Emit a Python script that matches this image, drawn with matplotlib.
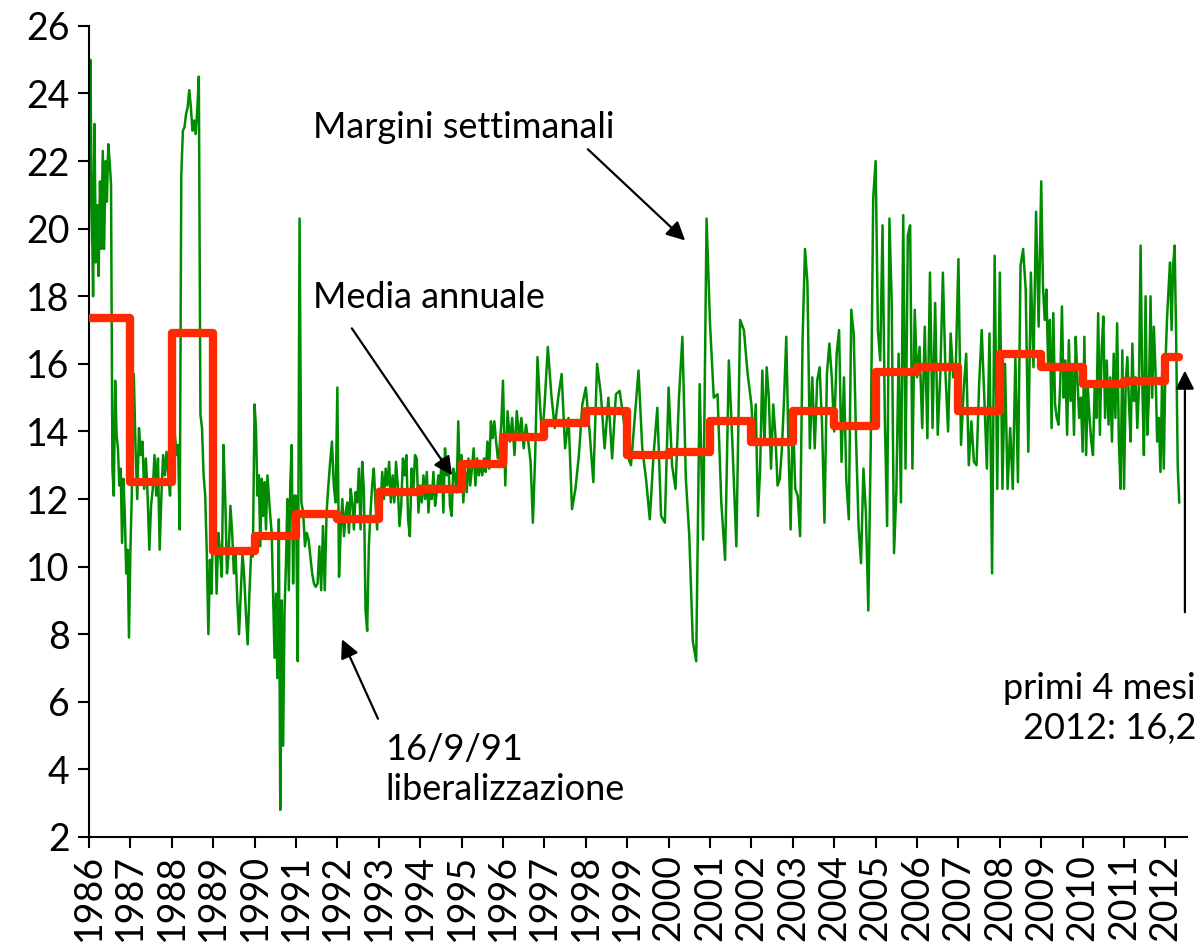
import numpy as np
import matplotlib
matplotlib.use('Agg')
import matplotlib.pyplot as plt

plt.rcParams['font.family'] = ['Lato', 'DejaVu Sans']

# margini settimanali, una lista per anno
w1986 = [19.6, 25.0, 20.9, 18.0, 23.1, 19.0, 20.7, 18.6, 21.4, 19.4, 22.3, 19.4, 22.0, 20.8, 22.5, 22.0, 21.3,
         12.9, 12.1, 15.5, 13.9, 13.5, 12.4, 12.9, 10.7, 12.6, 11.5, 9.8, 10.5, 7.9]
w1987 = [10.4, 12.5, 15.7, 13.5, 12.0, 14.1, 13.3, 13.7, 12.3, 13.2, 12.1, 10.5, 11.8, 12.3, 13.3, 12.1, 13.2,
         10.5, 12.1, 13.3, 12.7, 13.4, 12.7, 12.1]
w1988 = [13.6, 13.2, 13.9, 13.3, 13.6, 11.1, 21.6, 22.9, 23.0, 23.4, 23.6, 24.1, 23.6, 22.9, 23.2, 22.8, 23.5,
         24.5, 14.5, 14.1, 12.7, 12.1, 10.4, 8.0, 10.2, 9.2]
w1989 = [11.5, 11.8, 9.2, 11.0, 10.4, 9.7, 13.6, 12.0, 9.8, 10.4, 11.8, 11.0, 9.8, 10.4, 9.0, 8.0, 9.2, 10.4,
         9.7, 8.6, 7.7, 9.2, 10.4, 10.3]
w1990 = [14.8, 14.1, 12.1, 12.7, 10.6, 12.6, 11.5, 12.5, 11.1, 12.7, 12.1, 11.5, 11.0, 9.2, 7.3, 9.2, 6.7, 11.4,
         2.8, 9.0, 4.7, 8.7, 10.1, 12.0, 9.3, 12.4, 13.6, 9.5, 12.1]
w1991 = [12.1, 7.2, 20.3, 11.9, 11.6, 10.6, 11.0, 10.8, 10.3, 9.8, 9.5, 9.4, 9.5, 10.6, 9.3, 11.2, 9.3, 11.6,
         12.4, 13.1, 13.7, 12.4, 11.9]
w1992 = [15.3, 9.7, 11.1, 12.0, 10.9, 11.6, 11.9, 11.0, 12.3, 11.9, 11.1, 12.2, 11.9, 12.9, 11.1, 13.1, 12.3,
         8.7, 8.1, 10.6, 11.6, 12.4, 12.9, 11.9, 11.1]
w1993 = [12.3, 11.8, 12.8, 12.0, 12.9, 12.4, 13.1, 11.9, 12.7, 11.9, 13.1, 12.4, 11.2, 11.8, 13.2, 12.7, 13.3,
         11.4, 10.9, 12.9, 12.2, 13.3, 13.2, 11.6]
w1994 = [12.4, 11.9, 12.7, 12.0, 12.8, 11.6, 12.4, 12.0, 12.8, 11.8, 12.2, 12.7, 12.4, 13.2, 11.6, 13.5, 12.7,
         13.2, 11.8, 11.5, 12.9, 12.7, 12.2, 14.3, 12.4]
w1995 = [13.3, 11.9, 12.8, 12.2, 13.2, 12.4, 12.9, 13.5, 12.4, 13.2, 12.7, 13.1, 12.7, 13.2, 12.8, 13.7, 12.9,
         14.3, 13.8, 14.3, 13.7, 13.2, 13.5, 14.2]
w1996 = [15.5, 12.4, 14.6, 13.7, 14.4, 13.3, 14.6, 13.8, 14.4, 13.5, 14.2, 13.7, 13.1, 11.3, 13.3, 16.2, 14.9, 13.8]
w1997 = [14.7, 16.5, 15.1, 14.1, 15.0, 15.7, 13.5, 14.4, 11.7, 12.3, 13.3, 14.8]
w1998 = [15.3, 14.0, 12.5, 16.0, 15.1, 13.5, 15.0, 13.2, 15.1, 15.2, 14.4]
w1999 = [13.3, 13.0, 14.4, 15.8, 13.5, 12.6, 11.4, 13.3, 14.7, 11.5, 11.3]
w2000 = [15.3, 13.0, 12.3, 15.0, 16.8, 12.6, 10.9, 7.8, 7.2, 15.4, 10.8, 20.3]
w2001 = [17.2, 15.0, 15.1, 11.9, 10.2, 16.1, 13.5, 10.6, 17.3, 17.0, 15.7]
w2002 = [14.8, 13.6, 14.8, 11.5, 12.9, 15.8, 13.6, 15.9, 15.0, 12.9, 14.8, 13.9, 12.4, 12.6, 13.5, 15.0, 16.8,
         13.6, 11.1]
w2003 = [14.6, 12.3, 12.1, 10.9, 16.7, 19.4, 18.4, 13.5, 15.6, 13.5, 15.5, 15.9, 14.2, 11.3, 15.7, 16.6, 15.6]
w2004 = [14.0, 16.3, 17.0, 13.1, 15.6, 12.5, 11.4, 17.6, 16.9, 13.7, 11.2, 10.1, 12.9, 11.6, 8.7, 13.6, 20.9]
w2005 = [22.0, 17.0, 16.1, 20.1, 14.4, 11.2, 20.3, 17.8, 10.4, 12.2, 16.3, 11.9, 20.4, 12.9, 19.8, 20.1, 12.9, 17.6]
w2006 = [15.6, 16.5, 14.1, 17.1, 13.8, 18.7, 14.1, 17.8, 13.9, 15.7, 18.7, 15.7, 14.0, 16.9, 15.6, 16.0]
w2007 = [19.1, 13.6, 15.2, 16.3, 13.0, 14.3, 13.1, 13.0, 15.4, 17.0, 15.0, 12.9, 16.9, 9.8, 19.2, 12.3]
w2008 = [18.7, 12.3, 16.0, 12.3, 14.1, 12.3, 16.2, 12.5, 18.9, 19.4, 18.2, 13.4, 18.7, 15.9, 20.5, 17.1]
w2009 = [21.4, 18.3, 17.3, 18.2, 15.9, 17.3, 14.1, 17.5, 14.8, 14.4, 14.2, 15.4, 17.7, 15.0, 16.1, 13.9, 16.7,
         14.9, 15.9, 13.9, 16.8, 15.5, 14.4, 15.0]
w2010 = [13.4, 16.8, 13.3, 15.3, 14.4, 13.7, 13.3, 15.4, 14.4, 17.5, 13.9, 16.4, 17.4, 14.4, 16.1, 14.2, 15.6,
         13.7, 16.3, 14.4, 17.2, 13.7, 12.3, 16.4]
w2011 = [12.3, 15.4, 16.2, 14.8, 13.7, 16.6, 14.9, 15.6, 14.1, 15.3, 19.5, 15.5, 13.3, 18.0, 13.9, 15.0, 18.0,
         15.0, 17.1, 15.8, 13.7, 14.4, 12.8, 15.7, 12.9]
w2012 = [16.0, 17.3, 18.2, 19.0, 17.0, 18.9, 19.5, 16.7, 13.0, 11.9]

weekly = [w1986, w1987, w1988, w1989, w1990, w1991, w1992, w1993, w1994, w1995, w1996, w1997, w1998,
          w1999, w2000, w2001, w2002, w2003, w2004, w2005, w2006, w2007, w2008, w2009, w2010, w2011, w2012]

years = list(range(1986, 2013))
media = [17.35, 12.5, 16.9, 10.45, 10.9, 11.55, 11.4, 12.2, 12.3, 13.05, 13.85, 14.25, 14.6, 13.3,
         13.4, 14.3, 13.7, 14.6, 14.15, 15.75, 15.9, 14.6, 16.3, 15.9, 15.4, 15.5, 16.2]
mesi_2012 = 4

# asse dei tempi: punti equidistanti dentro ogni anno
t, v = [], []
for yr, vals in zip(years, weekly):
    n = len(vals)
    if yr == 2012:
        pos = yr + np.linspace(0, mesi_2012 / 12, n)
    else:
        pos = yr + np.arange(n) / n
    t.extend(pos)
    v.extend(vals)

fig = plt.figure(figsize=(12.02, 9.42), dpi=100)
ax = fig.add_axes([0.074, 0.1115, 0.9135, 0.861])

ax.plot(t, v, color='#008c00', lw=1.8, zorder=2)
ax.step(years + [2012 + mesi_2012 / 12], media + [media[-1]], where='post',
        color='#ff2a00', lw=6, solid_joinstyle='round', solid_capstyle='round', zorder=3)

ax.set_xlim(1986, 2012.52)
ax.set_ylim(2, 26)
ax.set_yticks(range(2, 27, 2))
ax.set_xticks(years)
ax.set_xticklabels([str(y) for y in years], rotation=90)
ax.tick_params(direction='out', length=8, width=1.5, labelsize=27, colors='black')
ax.tick_params(axis='y', pad=6)
ax.tick_params(axis='x', pad=4)
for s in ['top', 'right']:
    ax.spines[s].set_visible(False)
for s in ['left', 'bottom']:
    ax.spines[s].set_linewidth(1.5)

fs = 26
arrow = dict(arrowstyle='-|>', color='black', lw=1.6, mutation_scale=28, shrinkA=0, shrinkB=0)

ax.text(1991.4, 23.0, 'Margini settimanali', fontsize=fs, va='center', ha='left')
ax.annotate('', xy=(2000.4, 19.65), xytext=(1998.05, 22.35), arrowprops=arrow)

ax.text(1991.4, 17.95, 'Media annuale', fontsize=fs, va='center', ha='left')
ax.annotate('', xy=(1994.77, 12.7), xytext=(1992.35, 17.05), arrowprops=arrow)

ax.text(1993.15, 4.0, '16/9/91\nliberalizzazione', fontsize=fs, va='center', ha='left',
        linespacing=1.25)
ax.annotate('', xy=(1992.11, 7.85), xytext=(1992.98, 5.5), arrowprops=arrow)

ax.text(2012.74, 5.8, 'primi 4 mesi\n2012: 16,2', fontsize=fs, va='center', ha='right',
        multialignment='right', linespacing=1.25, clip_on=False)
ax.annotate('', xy=(2012.47, 15.8), xytext=(2012.47, 8.65), arrowprops=arrow,
            annotation_clip=False)

fig.savefig('out.png', dpi=100)
